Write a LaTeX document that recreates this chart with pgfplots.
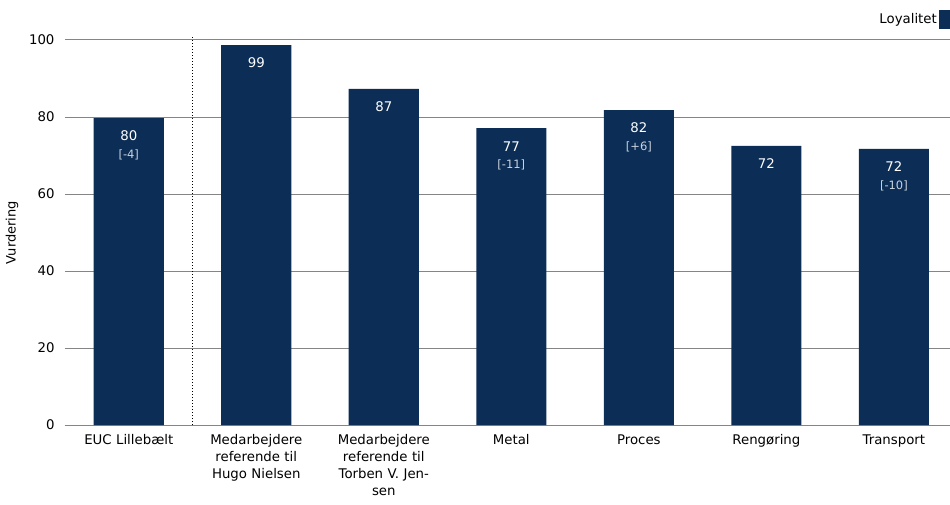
\documentclass[border=0pt]{standalone}
\usepackage{fontspec}
\setmainfont{DejaVu Sans}
\usepackage{pgfplots}
\pgfplotsset{compat=1.18}
\definecolor{navy}{HTML}{0C2E56}
\definecolor{gridgray}{HTML}{858585}
\definecolor{sublight}{HTML}{C9D3DE}
\begin{document}
\begin{tikzpicture}
\useasboundingbox (-65pt,-79pt) rectangle (885pt,425pt);
\begin{axis}[
  scale only axis, width=885pt, height=385pt,
  xmin=-0.5, xmax=6.44, ymin=0, ymax=100,
  axis x line*=bottom, axis y line*=left,
  y axis line style={draw=none},
  x axis line style={draw=gridgray, line width=1pt, -},
  xtick={0,...,6},
  xticklabels={EUC Lillebælt,{Medarbejdere\\referende til\\Hugo Nielsen},{Medarbejdere\\referende til\\Torben V. Jen-\\sen},Metal,Proces,Rengøring,Transport},
  ytick={0,20,...,100},
  /pgf/number format/assume math mode=true,
  major tick length=0pt,
  ymajorgrids, grid style={gridgray, line width=1pt},
  tick label style={font=\fontsize{13.3}{17}\selectfont},
  x tick label style={text width=130pt, align=center, anchor=north, yshift=-6pt},
  y tick label style={anchor=east, xshift=-7pt},
  ylabel={Vurdering},
  ylabel style={at={(axis description cs:-0.0599,0.5)}, anchor=center, font=\fontsize{13}{15}\selectfont},
  clip=false,
  legend plot pos=right,
  legend style={at={(axis description cs:1,1.0545)}, anchor=east, draw=none, fill=none, inner sep=0pt, font=\fontsize{13.3}{15}\selectfont},
  legend image code/.code={\fill[navy] (0pt,-9.5pt) rectangle (11pt,9.5pt);},
]
\addplot[ybar, bar width=0.55, fill=navy, draw=none,
  nodes near coords, point meta=explicit symbolic,
  every node near coord/.append style={anchor=center, yshift=-18pt, text=white, font=\fontsize{13.3}{15}\selectfont}]
  table[meta=lab] {
x y lab
0 79.7 80
1 98.7 99
2 87.3 87
3 77.1 77
4 81.8 82
5 72.5 72
6 71.7 72
};
\addlegendentry{Loyalitet}
\addplot[draw=none, mark=none, forget plot,
  nodes near coords, point meta=explicit symbolic,
  every node near coord/.append style={anchor=center, yshift=-37pt, text=sublight, font=\fontsize{11.5}{13}\selectfont}]
  table[meta=lab] {
x y lab
0 79.7 {[-4]}
3 77.1 {[-11]}
4 81.8 {[+6]}
6 71.7 {[-10]}
};
\draw[black, dotted, line width=1pt] (axis cs:0.5,0) -- (axis cs:0.5,100.8);
\end{axis}
\end{tikzpicture}
\end{document}
